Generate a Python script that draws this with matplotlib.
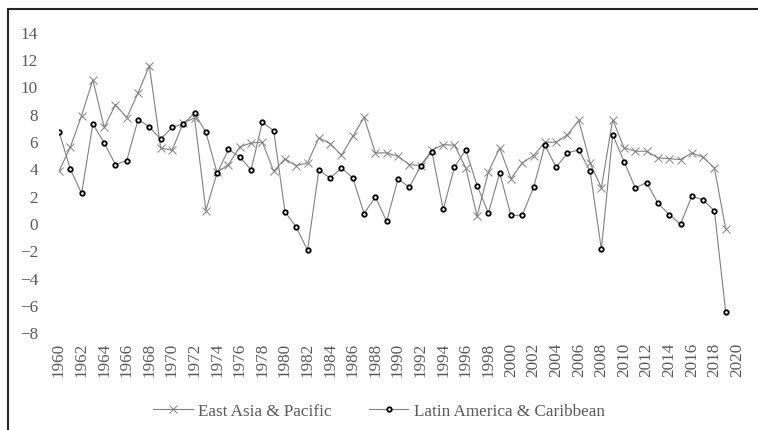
import matplotlib.pyplot as plt
import matplotlib.patches as patches

plt.rcParams['font.family'] = ['Liberation Serif', 'DejaVu Serif']

years = list(range(1960, 2020))

east_asia = [3.79, 5.54, 7.86, 10.49, 7.00, 8.66, 7.71, 9.52, 11.51, 5.50,
             5.32, 7.32, 7.69, 0.91, 3.71, 4.28, 5.57, 5.86, 5.91, 3.79,
             4.69, 4.20, 4.40, 6.23, 5.81, 4.96, 6.35, 7.73, 5.13, 5.13,
             4.88, 4.28, 4.20, 5.32, 5.74, 5.69, 4.03, 0.50, 3.74, 5.48,
             3.25, 4.40, 4.93, 5.91, 5.91, 6.47, 7.51, 4.40, 2.57, 7.57,
             5.50, 5.25, 5.25, 4.76, 4.71, 4.64, 5.13, 4.81, 4.03, -0.43]

latin_america = [6.69, 3.96, 2.16, 7.25, 5.86, 4.28, 4.57, 7.57, 7.03, 6.13,
                 7.00, 7.25, 8.03, 6.64, 3.64, 5.39, 4.84, 3.89, 7.37, 6.76,
                 0.82, -0.31, -1.99, 3.89, 3.28, 4.03, 3.30, 0.69, 1.91, 0.11,
                 3.23, 2.62, 4.15, 5.23, 0.99, 4.10, 5.35, 2.74, 0.73, 3.66,
                 0.55, 0.57, 2.62, 5.69, 4.08, 5.13, 5.35, 3.79, -1.94, 6.47,
                 4.50, 2.57, 2.96, 1.45, 0.62, -0.09, 1.96, 1.69, 0.89, -6.52]

x_ticks = list(range(1960, 2021, 2))
y_ticks = list(range(-8, 15, 2))

fig = plt.figure(figsize=(7.58, 4.31), dpi=100)
ax = fig.add_axes([0.0778, 0.2267, 0.8945, 0.6974])

ax.plot(years, east_asia, color='#808080', linewidth=0.8, marker='x',
        markersize=5.5, markeredgewidth=0.7, markeredgecolor='#808080',
        label='East Asia & Pacific')
ax.plot(years, latin_america, color='#808080', linewidth=0.8, marker='o',
        markersize=3.2, markeredgewidth=1.3, markeredgecolor='black',
        markerfacecolor='white', label='Latin America & Caribbean')

ax.set_xlim(1960, 2020)
ax.set_ylim(-8, 14)
ax.set_xticks(x_ticks)
ax.set_xticklabels([str(t) for t in x_ticks], rotation=90)
ax.set_yticks(y_ticks)
ax.tick_params(axis='both', length=0, labelsize=12.3, labelcolor='#595959')
ax.tick_params(axis='y', pad=15)
ax.tick_params(axis='x', pad=7)
for s in ax.spines.values():
    s.set_visible(False)

leg = fig.legend(loc='center', bbox_to_anchor=(0.5, 1 - 412 / 431), ncol=2,
                 frameon=False, fontsize=12.3, handlelength=2.3,
                 handletextpad=0.3, columnspacing=2.2)
for t in leg.get_texts():
    t.set_color('#595959')

# рамка вокруг рисунка (видны только левая и верхняя стороны)
fig.patches.append(patches.Rectangle((7.5 / 758, -0.2), 1.2, 1.2 - 10 / 431,
                                     transform=fig.transFigure, fill=False,
                                     edgecolor='#262626', linewidth=1.5))

fig.savefig('out.png', dpi=100)
